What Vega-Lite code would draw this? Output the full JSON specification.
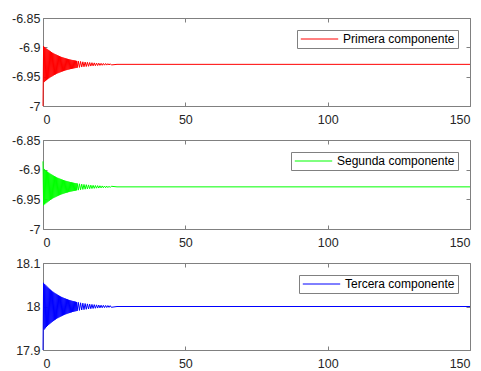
{
"$schema": "https://vega.github.io/schema/vega-lite/v6.json",
"autosize": {"type": "pad"},
"padding": {"left": 11, "top": 11, "right": 0, "bottom": 0},
"background": "white",
"datasets": {
"r": [{"t":0,"v":-7},{"t":0.2,"v":-6.8979},{"t":0.4,"v":-6.9592},{"t":0.6,"v":-6.8996},{"t":0.8,"v":-6.9575},{"t":1,"v":-6.9013},{"t":1.2,"v":-6.956},{"t":1.4,"v":-6.9028},{"t":1.6,"v":-6.9545},{"t":1.8,"v":-6.9043},{"t":2,"v":-6.9531},{"t":2.2,"v":-6.9056},{"t":2.4,"v":-6.9517},{"t":2.6,"v":-6.9069},{"t":2.8,"v":-6.9505},{"t":3,"v":-6.9081},{"t":3.2,"v":-6.9493},{"t":3.4,"v":-6.9093},{"t":3.6,"v":-6.9481},{"t":3.8,"v":-6.9104},{"t":4,"v":-6.9471},{"t":4.2,"v":-6.9114},{"t":4.4,"v":-6.9461},{"t":4.6,"v":-6.9124},{"t":4.8,"v":-6.9451},{"t":5,"v":-6.9133},{"t":5.2,"v":-6.9442},{"t":5.4,"v":-6.9142},{"t":5.6,"v":-6.9434},{"t":5.8,"v":-6.915},{"t":6,"v":-6.9426},{"t":6.2,"v":-6.9158},{"t":6.4,"v":-6.9418},{"t":6.6,"v":-6.9165},{"t":6.8,"v":-6.9411},{"t":7,"v":-6.9172},{"t":7.2,"v":-6.9405},{"t":7.4,"v":-6.9179},{"t":7.6,"v":-6.9398},{"t":7.8,"v":-6.9185},{"t":8,"v":-6.9392},{"t":8.2,"v":-6.9191},{"t":8.4,"v":-6.9387},{"t":8.6,"v":-6.9196},{"t":8.8,"v":-6.9381},{"t":9,"v":-6.9201},{"t":9.2,"v":-6.9376},{"t":9.4,"v":-6.9206},{"t":9.6,"v":-6.9371},{"t":9.8,"v":-6.9211},{"t":10,"v":-6.9367},{"t":10.2,"v":-6.9215},{"t":10.4,"v":-6.9363},{"t":10.6,"v":-6.9219},{"t":10.8,"v":-6.9359},{"t":11,"v":-6.9223},{"t":11.2,"v":-6.9355},{"t":11.4,"v":-6.9227},{"t":11.6,"v":-6.9351},{"t":11.8,"v":-6.9231},{"t":12,"v":-6.9348},{"t":12.4,"v":-6.9235},{"t":12.8,"v":-6.9342},{"t":13.2,"v":-6.9241},{"t":13.6,"v":-6.9336},{"t":14,"v":-6.9247},{"t":14.4,"v":-6.9331},{"t":14.8,"v":-6.9251},{"t":15.2,"v":-6.9327},{"t":15.6,"v":-6.9255},{"t":16,"v":-6.9323},{"t":16.4,"v":-6.9259},{"t":16.8,"v":-6.9319},{"t":17.2,"v":-6.9262},{"t":17.6,"v":-6.9316},{"t":18,"v":-6.9265},{"t":18.4,"v":-6.9313},{"t":18.8,"v":-6.9268},{"t":19.2,"v":-6.9311},{"t":19.6,"v":-6.927},{"t":20,"v":-6.9308},{"t":20.4,"v":-6.9273},{"t":20.8,"v":-6.9306},{"t":21.2,"v":-6.9275},{"t":21.6,"v":-6.9304},{"t":22,"v":-6.9276},{"t":22.4,"v":-6.9303},{"t":22.8,"v":-6.9278},{"t":23.2,"v":-6.9301},{"t":23.6,"v":-6.928},{"t":24,"v":-6.93},{"t":26,"v":-6.929},{"t":150,"v":-6.929}],
"g": [{"t":0,"v":-6.886},{"t":0.2,"v":-6.9601},{"t":0.4,"v":-6.8988},{"t":0.6,"v":-6.9584},{"t":0.8,"v":-6.9005},{"t":1,"v":-6.9567},{"t":1.2,"v":-6.902},{"t":1.4,"v":-6.9552},{"t":1.6,"v":-6.9035},{"t":1.8,"v":-6.9537},{"t":2,"v":-6.9049},{"t":2.2,"v":-6.9524},{"t":2.4,"v":-6.9063},{"t":2.6,"v":-6.9511},{"t":2.8,"v":-6.9075},{"t":3,"v":-6.9499},{"t":3.2,"v":-6.9087},{"t":3.4,"v":-6.9487},{"t":3.6,"v":-6.9099},{"t":3.8,"v":-6.9476},{"t":4,"v":-6.9109},{"t":4.2,"v":-6.9466},{"t":4.4,"v":-6.9119},{"t":4.6,"v":-6.9456},{"t":4.8,"v":-6.9129},{"t":5,"v":-6.9447},{"t":5.2,"v":-6.9138},{"t":5.4,"v":-6.9438},{"t":5.6,"v":-6.9146},{"t":5.8,"v":-6.943},{"t":6,"v":-6.9154},{"t":6.2,"v":-6.9422},{"t":6.4,"v":-6.9162},{"t":6.6,"v":-6.9415},{"t":6.8,"v":-6.9169},{"t":7,"v":-6.9408},{"t":7.2,"v":-6.9175},{"t":7.4,"v":-6.9401},{"t":7.6,"v":-6.9182},{"t":7.8,"v":-6.9395},{"t":8,"v":-6.9188},{"t":8.2,"v":-6.9389},{"t":8.4,"v":-6.9193},{"t":8.6,"v":-6.9384},{"t":8.8,"v":-6.9199},{"t":9,"v":-6.9379},{"t":9.2,"v":-6.9204},{"t":9.4,"v":-6.9374},{"t":9.6,"v":-6.9209},{"t":9.8,"v":-6.9369},{"t":10,"v":-6.9213},{"t":10.2,"v":-6.9365},{"t":10.4,"v":-6.9217},{"t":10.6,"v":-6.9361},{"t":10.8,"v":-6.9221},{"t":11,"v":-6.9357},{"t":11.2,"v":-6.9225},{"t":11.4,"v":-6.9353},{"t":11.6,"v":-6.9229},{"t":11.8,"v":-6.9349},{"t":12,"v":-6.9232},{"t":12.4,"v":-6.9345},{"t":12.8,"v":-6.9238},{"t":13.2,"v":-6.9339},{"t":13.6,"v":-6.9244},{"t":14,"v":-6.9333},{"t":14.4,"v":-6.9249},{"t":14.8,"v":-6.9329},{"t":15.2,"v":-6.9253},{"t":15.6,"v":-6.9325},{"t":16,"v":-6.9257},{"t":16.4,"v":-6.9321},{"t":16.8,"v":-6.9261},{"t":17.2,"v":-6.9318},{"t":17.6,"v":-6.9264},{"t":18,"v":-6.9315},{"t":18.4,"v":-6.9267},{"t":18.8,"v":-6.9312},{"t":19.2,"v":-6.9269},{"t":19.6,"v":-6.931},{"t":20,"v":-6.9272},{"t":20.4,"v":-6.9307},{"t":20.8,"v":-6.9274},{"t":21.2,"v":-6.9305},{"t":21.6,"v":-6.9276},{"t":22,"v":-6.9304},{"t":22.4,"v":-6.9277},{"t":22.8,"v":-6.9302},{"t":23.2,"v":-6.9279},{"t":23.6,"v":-6.93},{"t":24,"v":-6.928},{"t":26,"v":-6.929},{"t":150,"v":-6.929}],
"b": [{"t":0,"v":17.9},{"t":0.2,"v":18.0544},{"t":0.4,"v":17.9471},{"t":0.6,"v":18.0514},{"t":0.8,"v":17.95},{"t":1,"v":18.0486},{"t":1.2,"v":17.9528},{"t":1.4,"v":18.0459},{"t":1.6,"v":17.9554},{"t":1.8,"v":18.0433},{"t":2,"v":17.9579},{"t":2.2,"v":18.0409},{"t":2.4,"v":17.9602},{"t":2.6,"v":18.0387},{"t":2.8,"v":17.9624},{"t":3,"v":18.0365},{"t":3.2,"v":17.9645},{"t":3.4,"v":18.0345},{"t":3.6,"v":17.9665},{"t":3.8,"v":18.0326},{"t":4,"v":17.9684},{"t":4.2,"v":18.0307},{"t":4.4,"v":17.9701},{"t":4.6,"v":18.0291},{"t":4.8,"v":17.9718},{"t":5,"v":18.0274},{"t":5.2,"v":17.9733},{"t":5.4,"v":18.0259},{"t":5.6,"v":17.9748},{"t":5.8,"v":18.0245},{"t":6,"v":17.9762},{"t":6.2,"v":18.0231},{"t":6.4,"v":17.9775},{"t":6.6,"v":18.0219},{"t":6.8,"v":17.9788},{"t":7,"v":18.0206},{"t":7.2,"v":17.98},{"t":7.4,"v":18.0194},{"t":7.6,"v":17.9811},{"t":7.8,"v":18.0184},{"t":8,"v":17.9821},{"t":8.2,"v":18.0174},{"t":8.4,"v":17.9831},{"t":8.6,"v":18.0164},{"t":8.8,"v":17.9841},{"t":9,"v":18.0155},{"t":9.2,"v":17.9849},{"t":9.4,"v":18.0147},{"t":9.6,"v":17.9858},{"t":9.8,"v":18.0138},{"t":10,"v":17.9866},{"t":10.2,"v":18.013},{"t":10.4,"v":17.9873},{"t":10.6,"v":18.0123},{"t":10.8,"v":17.988},{"t":11,"v":18.0117},{"t":11.2,"v":17.9887},{"t":11.4,"v":18.011},{"t":11.6,"v":17.9893},{"t":11.8,"v":18.0104},{"t":12,"v":17.9899},{"t":12.4,"v":18.0095},{"t":12.8,"v":17.991},{"t":13.2,"v":18.0085},{"t":13.6,"v":17.992},{"t":14,"v":18.0076},{"t":14.4,"v":17.9928},{"t":14.8,"v":18.0068},{"t":15.2,"v":17.9936},{"t":15.6,"v":18.006},{"t":16,"v":17.9943},{"t":16.4,"v":18.0054},{"t":16.8,"v":17.9949},{"t":17.2,"v":18.0048},{"t":17.6,"v":17.9955},{"t":18,"v":18.0043},{"t":18.4,"v":17.996},{"t":18.8,"v":18.0038},{"t":19.2,"v":17.9964},{"t":19.6,"v":18.0034},{"t":20,"v":17.9968},{"t":20.4,"v":18.003},{"t":20.8,"v":17.9971},{"t":21.2,"v":18.0027},{"t":21.6,"v":17.9974},{"t":22,"v":18.0024},{"t":22.4,"v":17.9977},{"t":22.8,"v":18.0022},{"t":23.2,"v":17.998},{"t":23.6,"v":18.0019},{"t":24,"v":17.9982},{"t":26,"v":18},{"t":150,"v":18}]
},
"config": {
  "view": {"stroke": "#808080", "strokeWidth": 1},
  "axis": {"grid": false, "domain": false, "tickSize": -4, "tickColor": "#808080", "labelFont": "Liberation Sans", "labelFontSize": 12.5, "labelColor": "#262626", "title": null},
  "axisY": {"labelPadding": 7},
  "axisX": {"labelPadding": 11},
  "legend": {"orient": "top-right", "offset": 12, "strokeColor": "#808080", "fillColor": "white", "padding": 3, "symbolType": "stroke", "symbolSize": 1400, "symbolStrokeWidth": 1, "clipHeight": 12, "labelFont": "Liberation Sans", "labelFontSize": 12, "labelColor": "black"}
},
"spacing": 7,
"resolve": {"scale": {"color": "independent"}},
"vconcat": [
 {"width": 427, "height": 88, "data": {"name": "r"},
  "resolve": {"axis": {"x": "independent", "y": "independent"}},
  "layer": [
   {"mark": {"type": "line", "strokeWidth": 1},
    "encoding": {
     "x": {"field": "t", "type": "quantitative", "scale": {"domain": [0, 150], "nice": false}, "axis": {"orient": "bottom", "values": [0, 50, 100, 150]}},
     "y": {"field": "v", "type": "quantitative", "scale": {"domain": [-7, -6.85], "nice": false, "zero": false}, "axis": {"orient": "left", "values": [-7, -6.95, -6.9, -6.85], "labelExpr": "'' + datum.value"}},
     "color": {"datum": "Primera componente", "type": "nominal", "scale": {"domain": ["Primera componente"], "range": ["#ff0000"]}, "legend": {"title": null}}
    }},
   {"mark": {"type": "line", "opacity": 0},
    "encoding": {
     "x": {"field": "t", "type": "quantitative", "axis": {"orient": "top", "values": [0, 50, 100, 150], "labels": false}},
     "y": {"field": "v", "type": "quantitative", "axis": {"orient": "right", "values": [-7, -6.95, -6.9, -6.85], "labels": false}}
    }}
  ]},
 {"width": 427, "height": 89, "data": {"name": "g"},
  "resolve": {"axis": {"x": "independent", "y": "independent"}},
  "layer": [
   {"mark": {"type": "line", "strokeWidth": 1},
    "encoding": {
     "x": {"field": "t", "type": "quantitative", "scale": {"domain": [0, 150], "nice": false}, "axis": {"orient": "bottom", "values": [0, 50, 100, 150]}},
     "y": {"field": "v", "type": "quantitative", "scale": {"domain": [-7, -6.85], "nice": false, "zero": false}, "axis": {"orient": "left", "values": [-7, -6.95, -6.9, -6.85], "labelExpr": "'' + datum.value"}},
     "color": {"datum": "Segunda componente", "type": "nominal", "scale": {"domain": ["Segunda componente"], "range": ["#00ff00"]}, "legend": {"title": null}}
    }},
   {"mark": {"type": "line", "opacity": 0},
    "encoding": {
     "x": {"field": "t", "type": "quantitative", "axis": {"orient": "top", "values": [0, 50, 100, 150], "labels": false}},
     "y": {"field": "v", "type": "quantitative", "axis": {"orient": "right", "values": [-7, -6.95, -6.9, -6.85], "labels": false}}
    }}
  ]},
 {"width": 427, "height": 87, "data": {"name": "b"},
  "resolve": {"axis": {"x": "independent", "y": "independent"}},
  "layer": [
   {"mark": {"type": "line", "strokeWidth": 1},
    "encoding": {
     "x": {"field": "t", "type": "quantitative", "scale": {"domain": [0, 150], "nice": false}, "axis": {"orient": "bottom", "values": [0, 50, 100, 150]}},
     "y": {"field": "v", "type": "quantitative", "scale": {"domain": [17.9, 18.1], "nice": false, "zero": false}, "axis": {"orient": "left", "values": [17.9, 18, 18.1], "labelExpr": "'' + datum.value"}},
     "color": {"datum": "Tercera componente", "type": "nominal", "scale": {"domain": ["Tercera componente"], "range": ["#0000ff"]}, "legend": {"title": null}}
    }},
   {"mark": {"type": "line", "opacity": 0},
    "encoding": {
     "x": {"field": "t", "type": "quantitative", "axis": {"orient": "top", "values": [0, 50, 100, 150], "labels": false}},
     "y": {"field": "v", "type": "quantitative", "axis": {"orient": "right", "values": [17.9, 18, 18.1], "labels": false}}
    }}
  ]}
]
}
